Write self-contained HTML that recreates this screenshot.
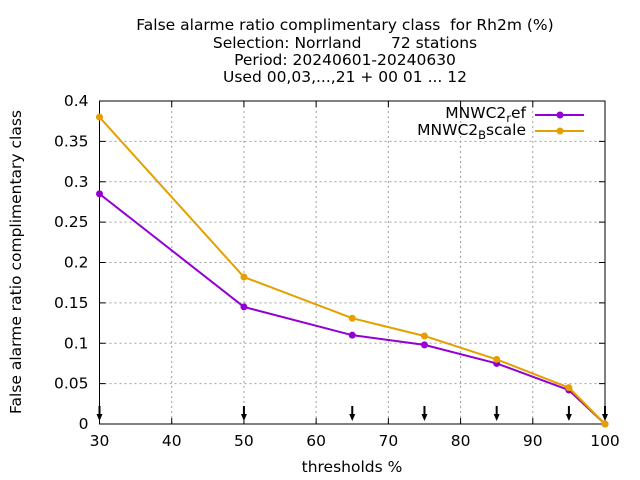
<!DOCTYPE html>
<html><head><meta charset="utf-8"><style>body{margin:0;background:#fff}svg{display:block;font-family:"DejaVu Sans","Liberation Sans",sans-serif}text{white-space:pre}</style></head>
<body>
<svg id="chart" width="640" height="480" xmlns="http://www.w3.org/2000/svg">
<g id="titles" font-size="15.5" text-anchor="middle" fill="#000">
<text x="345" y="30" xml:space="preserve">False alarme ratio complimentary class  for Rh2m (%)</text>
<text x="345" y="48" xml:space="preserve">Selection: Norrland      72 stations</text>
<text x="345" y="65">Period: 20240601-20240630</text>
<text x="345" y="82">Used 00,03,...,21 + 00 01 ... 12</text>
</g>
<g id="grid"></g><g id="axes"></g><g id="series"></g>
<text x="352" y="472" font-size="15.5" text-anchor="middle">thresholds %</text>
<text transform="translate(21,262) rotate(-90)" font-size="15.5" text-anchor="middle">False alarme ratio complimentary class</text>
<g font-size="15.5" text-anchor="end">
<text x="526" y="118">MNWC2<tspan font-size="11.5" dy="4">r</tspan><tspan dy="-4">ef</tspan></text>
<line x1="535" y1="115" x2="584" y2="115" stroke="#9400d3" stroke-width="2"/>
<circle cx="560" cy="115" r="3.5" fill="#9400d3"/>
<text x="526" y="135">MNWC2<tspan font-size="11.5" dy="4">B</tspan><tspan dy="-4">scale</tspan></text>
<line x1="535" y1="131" x2="584" y2="131" stroke="#e69f00" stroke-width="2"/>
<circle cx="560" cy="131" r="3.5" fill="#e69f00"/>
</g>
</svg>
<script>
const thresholds=[30,50,65,75,85,95,100];
const refValues=[0.285,0.145,0.11,0.098,0.075,0.042,0.0];
const bscaleValues=[0.38,0.182,0.131,0.109,0.08,0.045,0.0];
const xTicks=[30,40,50,60,70,80,90,100];
const yTicks=[0,0.05,0.1,0.15,0.2,0.25,0.3,0.35,0.4];
const yTickLabels=["0","0.05","0.1","0.15","0.2","0.25","0.3","0.35","0.4"];
const NS="http://www.w3.org/2000/svg";
const X0=99.5,X1=605,Y0=424,Y1=101;
const xs=v=>X0+(v-30)/70*(X1-X0);
const ys=v=>Y0-v/0.4*(Y0-Y1);
function mk(t,a,p){const e=document.createElementNS(NS,t);for(const k in a)e.setAttribute(k,a[k]);p.appendChild(e);return e;}
const grid=document.getElementById('grid'),axes=document.getElementById('axes'),ser=document.getElementById('series');
xTicks.forEach(v=>{
 if(v>30&&v<100){const g=mk('line',{x1:xs(v),x2:xs(v),y1:Y1,y2:Y0,stroke:'#a0a0a0','stroke-dasharray':'2,3','stroke-width':1},grid);
 
 }
 const t=mk('text',{x:xs(v),y:Y0+22,'font-size':15.5,'text-anchor':'middle'},axes);t.textContent=v;
 
 
 mk('line',{x1:xs(v),x2:xs(v),y1:Y0,y2:Y0-6,stroke:'#000'},axes);
 mk('line',{x1:xs(v),x2:xs(v),y1:Y1,y2:Y1+6,stroke:'#000'},axes);
});
yTicks.forEach((v,i)=>{
 if(v>0&&v<0.4){const g=mk('line',{x1:X0,x2:X1,y1:ys(v),y2:ys(v),stroke:'#a0a0a0','stroke-dasharray':'2,3','stroke-width':1},grid);
 
 }
 const t=mk('text',{x:X0-11,y:ys(v)+5,'font-size':15.5,'text-anchor':'end'},axes);t.textContent=yTickLabels[i];
 
 
 mk('line',{x1:X0,x2:X0+6,y1:ys(v),y2:ys(v),stroke:'#000'},axes);
 mk('line',{x1:X1,x2:X1-6,y1:ys(v),y2:ys(v),stroke:'#000'},axes);
});
const box=mk('rect',{x:X0,y:Y1,width:X1-X0,height:Y0-Y1,fill:'none',stroke:'#000'},axes);


thresholds.forEach(v=>{
 const a=mk('g',{},axes);
 
 
 mk('line',{x1:xs(v),x2:xs(v),y1:Y0-18,y2:Y0-5,stroke:'#000','stroke-width':2},a);
 mk('polygon',{points:`${xs(v)-3},${Y0-10} ${xs(v)+3},${Y0-10} ${xs(v)},${Y0-3}`,fill:'#000'},a);
});
function drawSeries(vals,color,name){
 const pts=thresholds.map((t,i)=>xs(t)+','+ys(vals[i])).join(' ');
 const p=mk('polyline',{points:pts,fill:'none',stroke:color,'stroke-width':2},ser);
 
 
 thresholds.forEach((t,i)=>{
  const c=mk('circle',{cx:xs(t),cy:ys(vals[i]),r:3.5,fill:color},ser);
  
  
 });
}
drawSeries(refValues,'#9400d3','ref');
drawSeries(bscaleValues,'#e69f00','bscale');
</script>
</body></html>
